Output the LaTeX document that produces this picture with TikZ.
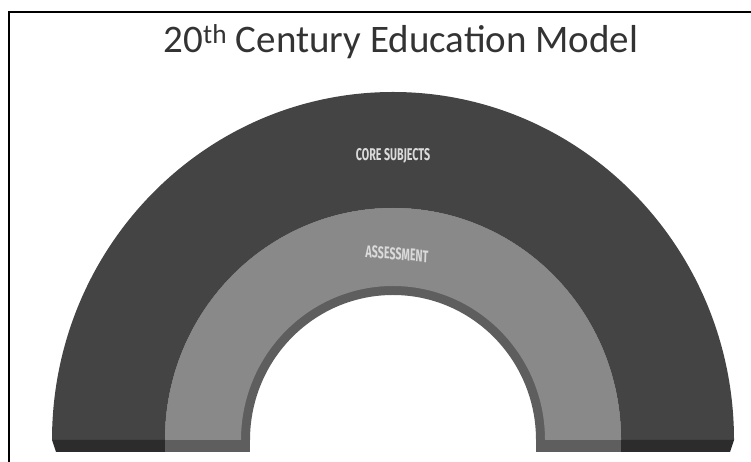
\documentclass[tikz,border=0pt]{standalone}
\usepackage{fontspec}
\setmainfont{Carlito}
\newfontfamily\labelfont{Fira Sans}
\definecolor{coredark}{HTML}{444444}
\definecolor{corebase}{HTML}{2C2C2C}
\definecolor{assesslight}{HTML}{898989}
\definecolor{assessrim}{HTML}{5E5E5E}
\definecolor{labelgray}{HTML}{DADADA}
\definecolor{titlegray}{HTML}{333333}
\tikzstyle{ringlabel} = [text=labelgray, font=\labelfont\bfseries\fontsize{17}{17}\selectfont, xscale=0.63, transform shape]

\begin{document}
\begin{tikzpicture}[x=1pt, y=1pt]
	\useasboundingbox (0,0) rectangle (751,462);
	% frame
	\draw[line width=2pt] (9,0) -- (9,450) -- (751,450);
	\node[text=titlegray] (title) at (401,420) {\fontsize{39}{42}\selectfont 20\textsuperscript{th} Century Education Model};
	% rings
	\coordinate (centre) at (393,22);
	\fill[coredark] (52,22) arc (180:0:341 and 348) -- (621,22) arc (0:180:228 and 232) -- cycle;
	\fill[assessrim] (165,22) arc (180:0:228 and 232) -- (536,22) arc (0:180:143 and 145) -- cycle;
	\fill[assesslight] (165,22) arc (180:0:228 and 232) -- (545,22) arc (0:180:152 and 154) -- cycle;
	% bottom faces
	\fill[corebase] (52,22) -- (165,22) -- (165,10) -- (56,10) -- cycle;
	\fill[assessrim] (165,22) -- (250,22) -- (250,10) -- (165,10) -- cycle;
	\fill[assessrim] (536,22) -- (621,22) -- (621,10) -- (536,10) -- cycle;
	\fill[corebase] (621,22) -- (734,22) -- (730,10) -- (621,10) -- cycle;
	% labels
	\node[ringlabel] (core) at (393,306) {CORE SUBJECTS};
	\node[ringlabel, rotate=-3] (assess) at (397,208) {ASSESSMENT};
\end{tikzpicture}
\end{document}
